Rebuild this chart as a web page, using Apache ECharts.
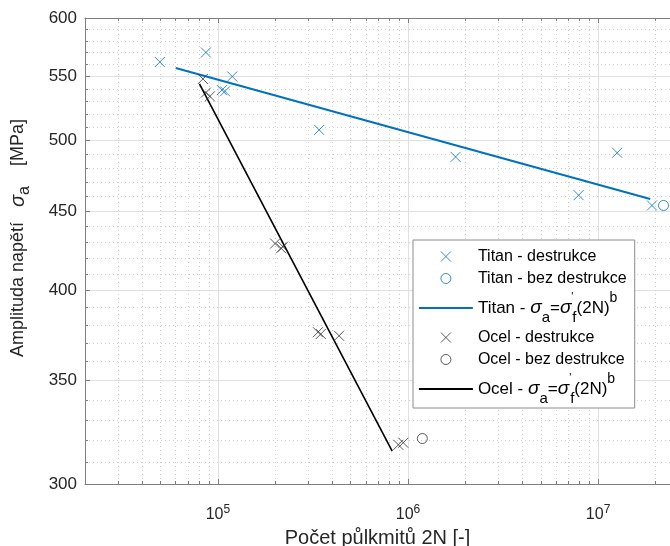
<!DOCTYPE html>
<html>
<head>
<meta charset="utf-8">
<script src="https://cdn.jsdelivr.net/npm/echarts@6/dist/echarts.min.js"></script>
<style>html,body{margin:0;padding:0;background:#fff}#c{width:670px;height:546px}</style>
</head>
<body>
<div id="c"></div>
<script>
// ---- data ----
var titanDestrX = [4.95e4, 8.65e4, 1.05e5, 1.09e5, 1.19e5, 3.41e5, 1.78e6, 7.9e6, 1.26e7, 1.92e7];
var titanDestrY = [562, 570, 539, 538, 550, 508, 488, 461, 491, 454];
var titanBezX = [2.21e7];
var titanBezY = [454];
var titanFitX = [6.0e4, 1.88e7];
var titanFitY = [557, 458.4];
var ocelDestrX = [8.34e4, 8.65e4, 9.08e4, 2.0e5, 2.15e5, 2.2e5, 3.36e5, 3.48e5, 4.34e5, 8.9e5, 9.44e5];
var ocelDestrY = [548, 537, 534, 429, 426, 427, 376, 375, 374, 318, 319];
var ocelBezX = [1.19e6];
var ocelBezY = [321];
var ocelFitX = [8.0e4, 8.26e5];
var ocelFitY = [544, 315];

var xMajor = [1e5, 1e6, 1e7];
var xMinor = [2e4, 3e4, 4e4, 5e4, 6e4, 7e4, 8e4, 9e4, 2e5, 3e5, 4e5, 5e5, 6e5, 7e5, 8e5, 9e5,
              2e6, 3e6, 4e6, 5e6, 6e6, 7e6, 8e6, 9e6, 2e7];
var yMajor = [300, 350, 400, 450, 500, 550, 600];
var yMinor = [310, 320, 330, 340, 360, 370, 380, 390, 410, 420, 430, 440, 460, 470, 480, 490,
              510, 520, 530, 540, 560, 570, 580, 590];
var xMin = 2e4, xMax = 2.39e7, yMin = 300, yMax = 600;

var names = ['Titan - destrukce', 'Titan - bez destrukce', 'Titan - fit',
             'Ocel - destrukce', 'Ocel - bez destrukce', 'Ocel - fit'];

function zip(xs, ys) { return xs.map(function (x, i) { return [x, ys[i]]; }); }

var BLUE = '#0072BD', BLACK = '#000000', GREYMK = '#333333';
var AXC = '#7f7f7f', TXT = '#262626';
var FONT = '"Liberation Sans", Arial, sans-serif';
var CROSS = 'path://M0,0L10,10M0,10L10,0';

function xAx(pos, major, withLine, withSplit, withLabel) {
  return {
    type: 'log', logBase: 10, min: xMin, max: xMax, position: pos,
    axisLine: { show: withLine, lineStyle: { color: AXC, width: 1 } },
    axisTick: { show: true, inside: true, length: major ? 5 : 3, customValues: major ? xMajor : xMinor,
                lineStyle: { color: AXC, width: 1 } },
    axisLabel: withLabel ? {
      show: true, customValues: xMajor, margin: 20, fontFamily: FONT,
      formatter: function (v) { return '{b|10}{p|' + Math.round(Math.log10(v)) + '}'; },
      rich: {
        b: { fontSize: 16, lineHeight: 22, color: TXT, fontFamily: FONT },
        p: { fontSize: 12, lineHeight: 13, verticalAlign: 'top', color: TXT, fontFamily: FONT }
      }
    } : { show: false },
    splitLine: withSplit ? { show: true, lineStyle: major ? { color: '#e0e0e0', width: 1 } :
                                                        { color: '#cfcfcf', width: 1, type: [1, 3] } } : { show: false },
    minorTick: { show: false }, minorSplitLine: { show: false },
    name: withLabel ? 'Počet půlkmitů 2N [-]' : '', nameLocation: 'middle', nameGap: 43,
    nameTextStyle: { fontSize: 20, color: TXT, fontFamily: FONT, lineHeight: 22 },
    silent: true
  };
}
function yAx(pos, major, withLine, withSplit, withLabel) {
  return {
    type: 'log', logBase: 10, min: yMin, max: yMax, position: pos,
    axisLine: { show: withLine, lineStyle: { color: AXC, width: 1 } },
    axisTick: { show: true, inside: true, length: major ? 5 : 3, customValues: major ? yMajor : yMinor,
                lineStyle: { color: AXC, width: 1 } },
    axisLabel: withLabel ? { show: true, customValues: yMajor, margin: 8, fontSize: 17, color: TXT, fontFamily: FONT,
                             formatter: function (v) { return String(Math.round(v)); } } : { show: false },
    splitLine: withSplit ? { show: true, lineStyle: major ? { color: '#e0e0e0', width: 1 } :
                                                        { color: '#cfcfcf', width: 1, type: [1, 3] } } : { show: false },
    minorTick: { show: false }, minorSplitLine: { show: false },
    name: withLabel ? '{n|Amplituda napětí   }{s|σ}{sub|a}{n|    [MPa]}' : '',
    nameLocation: 'middle', nameGap: 52, nameRotate: 90,
    nameTextStyle: {
      padding: [0, 0, 0, 26],
      rich: {
        n: { fontSize: 18, lineHeight: 30, color: TXT, fontFamily: FONT },
        s: { fontSize: 20, lineHeight: 30, color: TXT, fontFamily: FONT, fontStyle: 'italic' },
        sub: { fontSize: 16, lineHeight: 16, verticalAlign: 'bottom', color: TXT, fontFamily: FONT }
      }
    },
    silent: true
  };
}

var richLegend = {
  n: { fontSize: 17, lineHeight: 34, color: '#000', fontFamily: FONT },
  s: { fontSize: 19, lineHeight: 34, color: '#000', fontFamily: FONT, fontStyle: 'italic' },
  sub: { fontSize: 15, lineHeight: 16, verticalAlign: 'bottom', color: '#000', fontFamily: FONT },
  pr: { fontSize: 11, lineHeight: 19, width: 1, verticalAlign: 'top', color: '#000', fontFamily: FONT },
  sup: { fontSize: 14, lineHeight: 17, verticalAlign: 'top', color: '#000', fontFamily: FONT }
};

function markerLegend(name) {
  return { name: name, itemStyle: { borderWidth: 1 } };
}
function lineLegend(name) {
  return { name: name, itemStyle: { color: 'rgba(0,0,0,0)', borderColor: 'rgba(0,0,0,0)', borderWidth: 0 },
           lineStyle: { width: 1.8 } };
}

var option = {
  animation: false,
  backgroundColor: '#fff',
  grid: { left: 85, right: 0, top: 18, bottom: 62, containLabel: false, outerBoundsMode: 'none' },
  xAxis: [
    xAx('bottom', false, false, true, false),
    xAx('bottom', true, true, true, true),
    xAx('top', true, true, false, false),
    xAx('top', false, false, false, false)
  ],
  yAxis: [
    yAx('left', false, false, true, false),
    yAx('left', true, true, true, true)
  ],
  legend: {
    orient: 'vertical', left: 413, top: 240,
    padding: [7, 8, 2, 5], itemGap: 3,
    itemWidth: 54, itemHeight: 10,
    backgroundColor: '#fff', borderColor: '#8c8c8c', borderWidth: 1, borderRadius: 0,
    selectedMode: false,
    data: [markerLegend(names[0]), markerLegend(names[1]), lineLegend(names[2]),
           markerLegend(names[3]), markerLegend(names[4]), lineLegend(names[5])],
    textStyle: { fontSize: 16, lineHeight: 19, color: '#000', fontFamily: FONT, rich: richLegend },
    formatter: function (name) {
      if (name === 'Titan - fit' || name === 'Ocel - fit') {
        var p = name.split(' ')[0];
        return '{n|' + p + ' - }{s|σ}{sub|a}{n|=}{s|σ}{pr|\'}{sub|f}{n|(2N)}{sup|b}';
      }
      return name;
    }
  },
  series: [
    { name: names[0], type: 'scatter', xAxisIndex: 1, yAxisIndex: 1, data: zip(titanDestrX, titanDestrY),
      symbol: CROSS, symbolSize: 10, symbolKeepAspect: true,
      itemStyle: { color: 'rgba(0,0,0,0)', borderColor: BLUE, borderWidth: 1 }, z: 3 },
    { name: names[1], type: 'scatter', xAxisIndex: 1, yAxisIndex: 1, data: zip(titanBezX, titanBezY),
      symbol: 'circle', symbolSize: 10, symbolKeepAspect: true,
      itemStyle: { color: 'rgba(0,0,0,0)', borderColor: BLUE, borderWidth: 1 }, z: 3 },
    { name: names[2], type: 'line', xAxisIndex: 1, yAxisIndex: 1, data: zip(titanFitX, titanFitY),
      symbol: 'none', showSymbol: false, color: BLUE, lineStyle: { color: BLUE, width: 2 }, z: 2 },
    { name: names[3], type: 'scatter', xAxisIndex: 1, yAxisIndex: 1, data: zip(ocelDestrX, ocelDestrY),
      symbol: CROSS, symbolSize: 10, symbolKeepAspect: true,
      itemStyle: { color: 'rgba(0,0,0,0)', borderColor: GREYMK, borderWidth: 1 }, z: 3 },
    { name: names[4], type: 'scatter', xAxisIndex: 1, yAxisIndex: 1, data: zip(ocelBezX, ocelBezY),
      symbol: 'circle', symbolSize: 10, symbolKeepAspect: true,
      itemStyle: { color: 'rgba(0,0,0,0)', borderColor: GREYMK, borderWidth: 1 }, z: 3 },
    { name: names[5], type: 'line', xAxisIndex: 1, yAxisIndex: 1, data: zip(ocelFitX, ocelFitY),
      symbol: 'none', showSymbol: false, color: BLACK, lineStyle: { color: BLACK, width: 1.6 }, z: 2 }
  ]
};

var chart = echarts.init(document.getElementById('c'), null, { renderer: 'canvas' });
chart.setOption(option);
</script>
</body>
</html>
